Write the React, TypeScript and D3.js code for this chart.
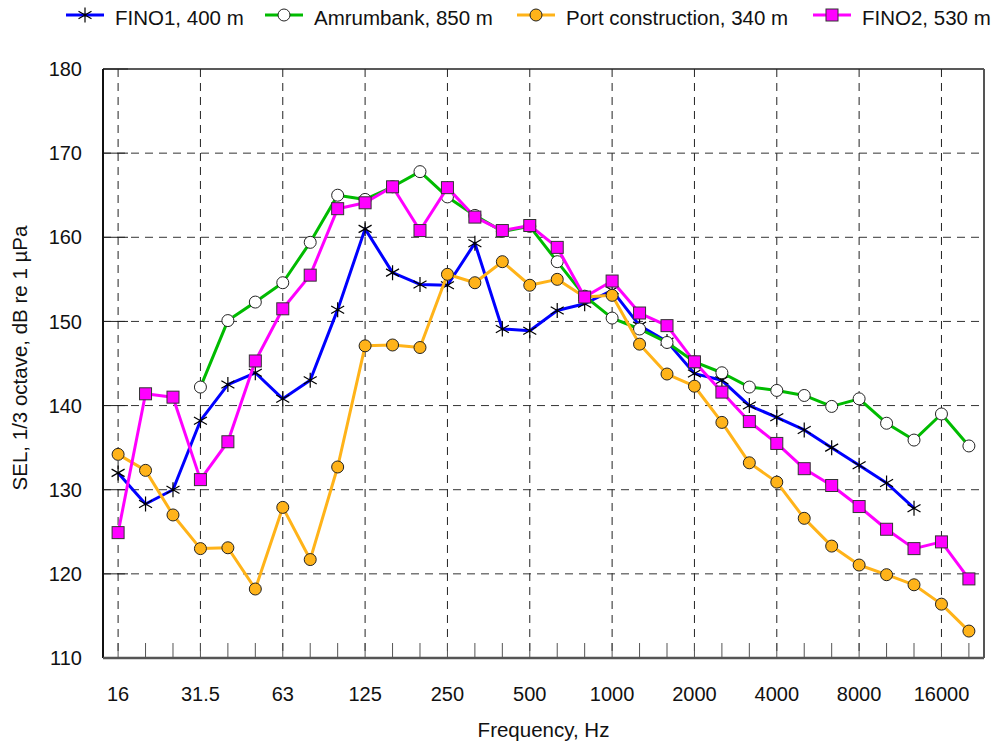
import React from "react";
import * as d3 from "d3";

// 1/3 octave band centre frequencies
const bands = [
  "16", "20", "25", "31.5", "40", "50", "63", "80", "100", "125", "160", "200",
  "250", "315", "400", "500", "630", "800", "1000", "1250", "1600", "2000",
  "2500", "3150", "4000", "5000", "6300", "8000", "10000", "12500", "16000", "20000",
];
const labeledBands = ["16", "31.5", "63", "125", "250", "500", "1000", "2000", "4000", "8000", "16000"];
const yTicks = [110, 120, 130, 140, 150, 160, 170, 180];

const fino1 = [
  132.0, 128.3, 130.0, 138.2, 142.5, 143.9, 140.8, 143.0, 151.4, 161.0, 155.8, 154.4,
  154.3, 159.3, 149.1, 148.9, 151.3, 152.1, 153.7, 149.5, 147.6, 143.8, 143.0, 140.0,
  138.6, 137.1, 135.0, 132.9, 130.8, 127.8, null, null,
];
const amrumbank = [
  null, null, null, 142.2, 150.1, 152.3, 154.6, 159.4, 165.0, 164.5, 166.0, 167.8,
  164.8, 162.6, 160.7, 161.3, 157.1, 153.0, 150.4, 149.1, 147.5, 145.2, 143.9, 142.2,
  141.8, 141.2, 139.9, 140.8, 137.9, 135.9, 139.0, 135.2,
];
const portConstruction = [
  134.2, 132.3, 127.0, 123.0, 123.1, 118.2, 127.9, 121.7, 132.7, 147.1, 147.2, 146.9,
  155.6, 154.6, 157.1, 154.3, 155.0, 152.9, 153.1, 147.3, 143.75, 142.3, 138.0, 133.2,
  130.9, 126.6, 123.3, 121.05, 119.9, 118.7, 116.4, 113.2,
];
const fino2 = [
  124.9, 141.4, 141.0, 131.2, 135.7, 145.3, 151.5, 155.5, 163.4, 164.1, 166.0, 160.8,
  165.9, 162.4, 160.8, 161.4, 158.8, 152.9, 154.8, 151.0, 149.5, 145.2, 141.6, 138.1,
  135.5, 132.5, 130.5, 128.0, 125.3, 123.0, 123.8, 119.4,
];

type Marker = "star" | "circle" | "square";
const series: { name: string; values: (number | null)[]; color: string; marker: Marker; fill: string; legendX: number }[] = [
  { name: "FINO1, 400 m", values: fino1, color: "#0000ff", marker: "star", fill: "none", legendX: 66 },
  { name: "Amrumbank, 850 m", values: amrumbank, color: "#00bb00", marker: "circle", fill: "#ffffff", legendX: 265 },
  { name: "Port construction, 340 m", values: portConstruction, color: "#ffb319", marker: "circle", fill: "#ffb319", legendX: 517 },
  { name: "FINO2, 530 m", values: fino2, color: "#ff00ff", marker: "square", fill: "#ff00ff", legendX: 813 },
];

const W = 997;
const H = 747;
const left = 103, right = 984, top = 69, bottom = 658;
const font = "'Liberation Sans', Arial, sans-serif";

function MarkerShape({ type, x, y, fill }: { type: Marker; x: number; y: number; fill: string }) {
  if (type === "star") {
    return (
      <path
        transform={`translate(${x},${y})`}
        d="M0,-7.5L0,7.5M-6.5,-3.75L6.5,3.75M-6.5,3.75L6.5,-3.75"
        stroke="#000"
        strokeWidth={1.2}
        fill="none"
      />
    );
  }
  if (type === "circle") {
    return <circle cx={x} cy={y} r={6} fill={fill} stroke="#222" strokeWidth={1} />;
  }
  return <rect x={x - 6} y={y - 6} width={12} height={12} fill={fill} stroke="#333" strokeWidth={1} />;
}

export default function App() {
  const x = d3.scalePoint<string>().domain(bands).range([left, right]).padding(0.55);
  const y = d3.scaleLinear().domain([110, 180]).range([bottom, top]);

  const line = d3
    .line<number | null>()
    .defined((d) => d != null)
    .x((_, i) => x(bands[i])!)
    .y((d) => y(d as number));

  return (
    <svg width={W} height={H} style={{ position: "absolute", left: 0, top: 0, background: "#fff" }} fontFamily={font}>
      {/* grid */}
      {labeledBands.map((b) => (
        <line key={"vg" + b} x1={x(b)} x2={x(b)} y1={top} y2={bottom} stroke="#222" strokeDasharray="8,6" strokeWidth={1} />
      ))}
      {yTicks.filter((t) => t > 110 && t < 180).map((t) => (
        <line key={"hg" + t} x1={left} x2={right} y1={y(t)} y2={y(t)} stroke="#333" strokeDasharray="8,6" strokeWidth={1} />
      ))}
      {/* ticks */}
      {bands.map((b) => (
        <line key={"xt" + b} x1={x(b)} x2={x(b)} y1={bottom} y2={bottom - 15} stroke="#555" strokeWidth={1} />
      ))}
      {yTicks.map((t) => (
        <line key={"yt" + t} x1={left} x2={left + 25} y1={y(t)} y2={y(t)} stroke="#222" strokeWidth={1} />
      ))}
      {/* frame */}
      <line x1={left} x2={right} y1={top} y2={top} stroke="#222" strokeWidth={1.5} />
      <line x1={left} x2={left} y1={top} y2={bottom} stroke="#111" strokeWidth={2} />
      <line x1={right} x2={right} y1={top} y2={bottom} stroke="#555" strokeWidth={2} />
      <line x1={left} x2={right} y1={bottom} y2={bottom} stroke="#555" strokeWidth={2.5} />

      {/* series */}
      {series.map((s) => (
        <g key={s.name}>
          <path d={line(s.values) || ""} fill="none" stroke={s.color} strokeWidth={3} strokeLinejoin="round" />
          {s.values.map((v, i) =>
            v == null ? null : <MarkerShape key={i} type={s.marker} x={x(bands[i])!} y={y(v)} fill={s.fill} />
          )}
        </g>
      ))}

      {/* y tick labels */}
      {yTicks.map((t) => (
        <text key={"yl" + t} x={82} y={y(t)} dy="0.36em" textAnchor="end" fontSize={20} fill="#111">
          {t}
        </text>
      ))}
      {/* x tick labels */}
      {labeledBands.map((b) => (
        <text key={"xl" + b} x={x(b)} y={701} textAnchor="middle" fontSize={20} fill="#111">
          {b}
        </text>
      ))}
      <text x={(left + right) / 2} y={737} textAnchor="middle" fontSize={20.5} fill="#111">
        Frequency, Hz
      </text>
      <text transform={`translate(27,358) rotate(-90)`} textAnchor="middle" fontSize={20.5} fill="#111">
        SEL, 1/3 octave, dB re 1 µPa
      </text>

      {/* legend */}
      {series.map((s) => (
        <g key={"lg" + s.name}>
          <line x1={s.legendX} x2={s.legendX + 38} y1={15} y2={15} stroke={s.color} strokeWidth={3} />
          <MarkerShape type={s.marker} x={s.legendX + 19} y={15} fill={s.fill} />
          <text x={s.legendX + 49} y={25} fontSize={20.5} fill="#111">
            {s.name}
          </text>
        </g>
      ))}
    </svg>
  );
}
